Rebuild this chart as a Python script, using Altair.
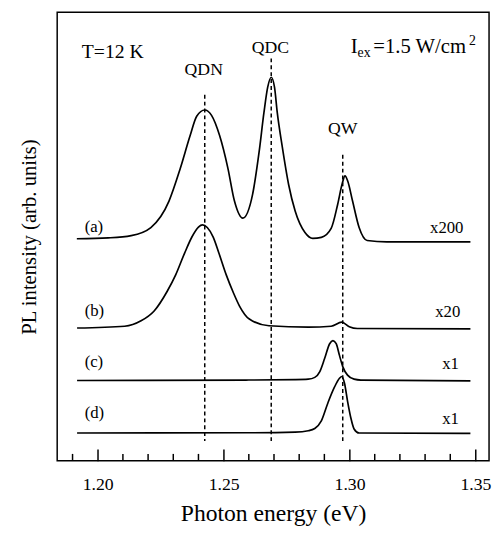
import altair as alt
import pandas as pd

FONT = "Liberation Serif"

# ---- spectra (photon energy in eV, PL intensity in arb. units, vertically offset) ----
a_E = [1.1917, 1.2042, 1.2133, 1.2211, 1.2283, 1.2328, 1.2367, 1.2393, 1.2425, 1.2452,
       1.2484, 1.2517, 1.2543, 1.2576, 1.2615, 1.2641, 1.2660, 1.2675, 1.2689, 1.2702,
       1.2713, 1.2732, 1.2758, 1.2784, 1.2823, 1.2854, 1.2888, 1.2927, 1.2953, 1.2971,
       1.2982, 1.2993, 1.3012, 1.3038, 1.3070, 1.3148, 1.3480]
a_I = [49.5, 49.7, 50.2, 52.0, 57.9, 65.2, 72.5, 76.8, 78.2, 77.0,
       72.5, 65.2, 57.9, 54.1, 59.4, 68.9, 77.6, 83.3, 85.5, 83.3,
       77.6, 70.3, 61.6, 55.7, 50.9, 49.6, 49.8, 51.8, 57.2, 61.8,
       63.5, 62.3, 57.9, 52.0, 49.1, 48.8, 48.8]

b_E = [1.1918, 1.2107, 1.2172, 1.2224, 1.2276, 1.2310, 1.2345, 1.2375, 1.2400, 1.2416,
       1.2435, 1.2459, 1.2480, 1.2510, 1.2540, 1.2563, 1.2602, 1.2680, 1.2836, 1.2927,
       1.2969, 1.2999, 1.3031, 1.3480]
b_I = [29.6, 30.0, 31.2, 33.4, 37.8, 41.5, 46.3, 50.0, 52.1, 52.6,
       52.0, 49.8, 46.5, 41.5, 37.3, 34.5, 31.6, 30.1, 29.8, 30.0,
       30.9, 29.9, 29.5, 29.4]

c_E = [1.1918, 1.2589, 1.2784, 1.2836, 1.2862, 1.2882, 1.2901, 1.2921, 1.2934, 1.2947,
       1.2960, 1.2973, 1.2992, 1.3018, 1.3045, 1.3480]
c_I = [17.9, 18.0, 18.1, 18.2, 18.6, 19.9, 22.8, 26.1, 26.8, 26.1,
       23.5, 21.0, 19.1, 18.2, 18.0, 17.8]

d_E = [1.1918, 1.2589, 1.2784, 1.2836, 1.2862, 1.2888, 1.2914, 1.2940, 1.2960, 1.2969,
       1.2980, 1.2992, 1.3005, 1.3018, 1.3038, 1.3480]
d_I = [6.2, 6.25, 6.4, 6.7, 7.2, 8.9, 12.9, 16.4, 18.4, 18.8,
       17.3, 13.3, 9.6, 7.1, 6.2, 6.1]

# ---- peak markers ----
peak_names = ["QDN", "QDC", "QW"]
peak_E = [1.2425, 1.2689, 1.2973]
peak_top = [81.6, 89.7, 68.2]
peak_bottom = [4.4, 4.4, 4.4]

# ---- axis ticks ----
major_ticks = [1.20, 1.25, 1.30, 1.35]
minor_ticks = [1.19, 1.21, 1.22, 1.23, 1.24, 1.26, 1.27, 1.28, 1.29,
               1.31, 1.32, 1.33, 1.34]

# ---- annotations ----
left_text = ["T=12 K", "(a)", "(b)", "(c)", "(d)"]
left_E = [1.1937, 1.1948, 1.1948, 1.1948, 1.1948]
left_v = [89.7, 50.9, 32.2, 20.9, 9.5]
left_size = [20, 17, 17, 17, 17]

center_text = ["QDN", "QDC", "QW", "x200", "x20", "x1", "x1"]
center_E = [1.2421, 1.2686, 1.2973, 1.3386, 1.3390, 1.3401, 1.3401]
center_v = [86.0, 90.8, 72.9, 50.7, 32.0, 20.5, 8.2]
center_size = [18, 18, 18, 17, 17, 17, 17]

iex_text = ["I", "ex", "=1.5 W/cm", "2"]
iex_E = [1.30047, 1.30320, 1.30945, 1.34740]
iex_v = [90.9, 90.0, 90.9, 92.65]
iex_size = [21, 14, 21, 14]

# ---- tables ----
rows = []
for name, E, I in [("a", a_E, a_I), ("b", b_E, b_I), ("c", c_E, c_I), ("d", d_E, d_I)]:
    for k, (e, i) in enumerate(zip(E, I)):
        rows.append({"curve": name, "E": e, "I": i, "k": k})
curves_df = pd.DataFrame(rows)
peaks_df = pd.DataFrame({"name": peak_names, "E": peak_E, "top": peak_top, "bottom": peak_bottom})
left_df = pd.DataFrame({"t": left_text, "E": left_E, "v": left_v, "s": left_size})
center_df = pd.DataFrame({"t": center_text, "E": center_E, "v": center_v, "s": center_size})
iex_df = pd.DataFrame({"t": iex_text, "E": iex_E, "v": iex_v, "s": iex_size})
minor_df = pd.DataFrame({"E": minor_ticks})

x_scale = alt.Scale(domain=[1.1839, 1.3554], nice=False, zero=False)
y_scale = alt.Scale(domain=[0, 100], nice=False, zero=False)

major_axis = alt.Axis(
    orient="bottom", values=major_ticks, format=".2f",
    tickSize=12, tickWidth=1.5, tickColor="black", offset=-12,
    domain=False, grid=False, labelFlush=False, labelOverlap=False,
    labelFont=FONT, labelFontSize=18, labelColor="black", labelPadding=15,
    title="Photon energy (eV)", titleFont=FONT, titleFontSize=24,
    titleFontWeight="normal", titleColor="black", titlePadding=9,
)
y_axis = alt.Axis(
    orient="left",
    title="PL intensity (arb. units)", labels=False, ticks=False, domain=False,
    grid=False, titleFont=FONT, titleFontSize=21, titleFontWeight="normal",
    titleColor="black", titlePadding=18, minExtent=0,
)

curves = alt.Chart(curves_df).mark_line(
    interpolate="monotone", color="black", strokeWidth=1.7
).encode(
    x=alt.X("E:Q", scale=x_scale, axis=major_axis),
    y=alt.Y("I:Q", scale=y_scale, axis=y_axis),
    detail="curve:N",
    order="k:Q",
)

dashes = alt.Chart(peaks_df).mark_rule(
    color="black", strokeWidth=1.5, strokeDash=[4, 3]
).encode(
    x=alt.X("E:Q", scale=x_scale),
    y=alt.Y("top:Q", scale=y_scale),
    y2="bottom:Q",
)

# short minor ticks standing on the bottom frame
minor = alt.Chart(minor_df).mark_rule(color="black", strokeWidth=1.5).encode(
    x=alt.X("E:Q", scale=x_scale),
    y=alt.value(449),
    y2=alt.value(456),
)

def text_layer(df, align):
    return alt.Chart(df).mark_text(
        align=align, baseline="alphabetic", font=FONT, color="black"
    ).encode(
        x=alt.X("E:Q", scale=x_scale),
        y=alt.Y("v:Q", scale=y_scale),
        text="t:N",
        size=alt.Size("s:Q", scale=None, legend=None),
    )

chart = alt.layer(
    curves, dashes, minor,
    text_layer(left_df, "left"), text_layer(center_df, "center"), text_layer(iex_df, "left"),
).properties(
    width=439, height=456,
    padding={"left": 50, "top": 0, "right": 3, "bottom": 62},
    autosize=alt.AutoSizeParams(type="none"),
).configure_view(stroke="black", strokeWidth=1.5)

chart.save("out.html", embed_options={"renderer": "svg", "actions": False})
